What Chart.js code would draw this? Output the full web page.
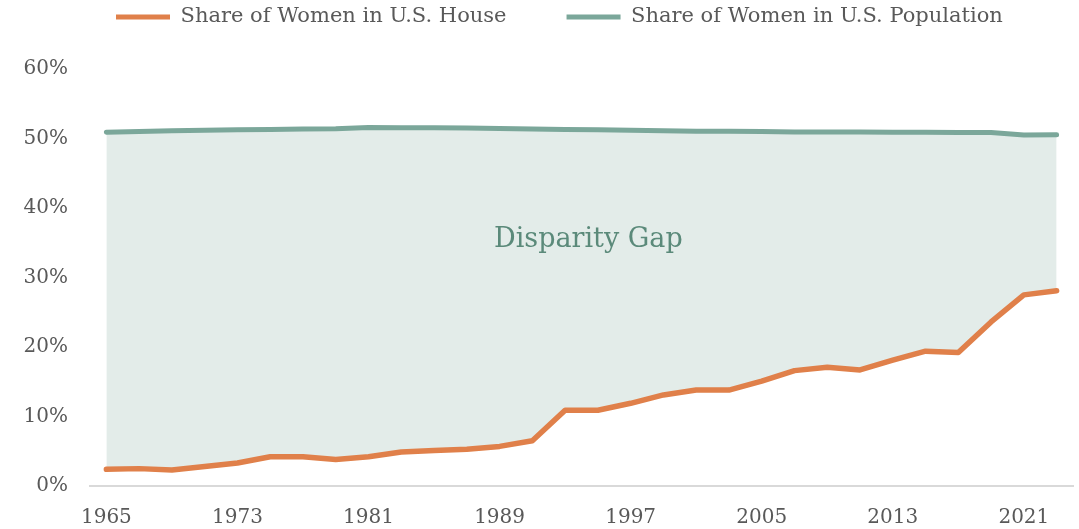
<!DOCTYPE html>
<html>
<head>
<meta charset="utf-8">
<script src="https://cdn.jsdelivr.net/npm/chart.js@4"></script>
<style>
  html, body { margin: 0; padding: 0; background: #ffffff; }
  #wrap { width: 1079px; height: 529px; position: relative; }
</style>
</head>
<body>
<div id="wrap"><canvas id="c"></canvas></div>
<script>
const years = ['1965','1967','1969','1971','1973','1975','1977','1979','1981','1983',
               '1985','1987','1989','1991','1993','1995','1997','1999','2001','2003',
               '2005','2007','2009','2011','2013','2015','2017','2019','2021','2023'];
const houseShare = [2.4, 2.5, 2.3, 2.8, 3.3, 4.2, 4.2, 3.8, 4.2, 4.9,
                    5.1, 5.3, 5.7, 6.5, 10.9, 10.9, 11.9, 13.1, 13.8, 13.8,
                    15.1, 16.6, 17.1, 16.7, 18.1, 19.4, 19.2, 23.6, 27.5, 28.1];
const popShare = [50.9, 51.0, 51.1, 51.2, 51.25, 51.3, 51.35, 51.4, 51.6, 51.55,
                  51.55, 51.5, 51.45, 51.35, 51.3, 51.25, 51.2, 51.1, 51.05, 51.05,
                  51.0, 50.95, 50.95, 50.95, 50.9, 50.9, 50.85, 50.85, 50.5, 50.55];
const seriesNames = ['Share of Women in U.S. House', 'Share of Women in U.S. Population'];
const yTicks = [0, 10, 20, 30, 40, 50, 60];
const gapLabel = 'Disparity Gap';
const gapLabelPos = { index: 14.71, value: 34.4 };

const ORANGE = '#e0804a';
const GREEN = '#7ba79a';
const FILL = '#e3ece9';
const TEXT = '#595959';
const FONT = "'DejaVu Serif', serif";

const legendPlacement = {
  id: 'legendPlacement',
  beforeInit(chart) {
    const lg = chart.legend;
    const origFit = lg.fit;
    lg.fit = function () {
      origFit.apply(this, arguments);
      this.height = 69;
    };
    const origDraw = lg._draw;
    lg._draw = function () {
      const ctx = this.ctx;
      const hb = this.legendHitBoxes && this.legendHitBoxes[0];
      let dx = 0, dy = 0;
      if (hb) {
        dx = 116 - hb.left;
        dy = 17 - (hb.top + hb.height / 2);
      }
      ctx.save();
      ctx.translate(dx, dy);
      origDraw.apply(this, arguments);
      ctx.restore();
    };
  }
};

const gapText = {
  id: 'gapText',
  afterDatasetsDraw(chart) {
    const { ctx, scales: { x, y } } = chart;
    const px = x.getPixelForValue(gapLabelPos.index);
    const py = y.getPixelForValue(gapLabelPos.value);
    ctx.save();
    ctx.font = "27px " + FONT;
    ctx.fillStyle = '#5b8a7a';
    ctx.textAlign = 'center';
    ctx.textBaseline = 'alphabetic';
    ctx.fillText(gapLabel, px, py);
    ctx.restore();
  }
};

new Chart(document.getElementById('c'), {
  type: 'line',
  data: {
    labels: years,
    datasets: [
      {
        label: seriesNames[0],
        data: houseShare,
        borderColor: ORANGE,
        backgroundColor: ORANGE,
        borderWidth: 5.5,
        pointRadius: 0,
        tension: 0,
        borderCapStyle: 'round',
        borderJoinStyle: 'round',
        fill: false,
        order: 0
      },
      {
        label: seriesNames[1],
        data: popShare,
        borderColor: GREEN,
        backgroundColor: FILL,
        borderWidth: 5,
        pointRadius: 0,
        tension: 0,
        borderCapStyle: 'round',
        borderJoinStyle: 'round',
        fill: { target: 0 },
        order: 1
      }
    ]
  },
  options: {
    responsive: true,
    maintainAspectRatio: false,
    animation: false,
    layout: { padding: { left: 0, right: 6, top: 0, bottom: 0 } },
    plugins: {
      legend: {
        display: true,
        position: 'top',
        align: 'start',
        labels: {
          boxWidth: 54,
          boxHeight: 5,
          padding: 60,
          useBorderRadius: true,
          borderRadius: 2.5,
          color: TEXT,
          font: { family: FONT, size: 21 },
          generateLabels(chart) {
            return chart.data.datasets.map((ds, i) => ({
              text: ds.label,
              fillStyle: ds.borderColor,
              strokeStyle: ds.borderColor,
              lineWidth: 0,
              fontColor: TEXT,
              hidden: false,
              datasetIndex: i
            }));
          }
        }
      },
      tooltip: { enabled: false },
      filler: { propagate: false }
    },
    scales: {
      x: {
        type: 'category',
        offset: true,
        grid: { display: false, drawTicks: false },
        border: { display: true, color: '#d9d9d9', width: 2 },
        ticks: {
          autoSkip: false,
          maxRotation: 0,
          padding: 20,
          color: TEXT,
          font: { family: FONT, size: 20 },
          callback(val, idx) { return idx % 4 === 0 ? this.getLabelForValue(val) : null; }
        },
        afterFit(scale) { scale.height = 43; }
      },
      y: {
        min: yTicks[0],
        max: yTicks[yTicks.length - 1],
        grid: { display: false, drawTicks: false },
        border: { display: false },
        afterBuildTicks(scale) { scale.ticks = yTicks.map(v => ({ value: v })); },
        ticks: {
          padding: 22,
          color: TEXT,
          font: { family: FONT, size: 20 },
          callback(v) { return v + '%'; }
        },
        afterFit(scale) { scale.width = 90; }
      }
    }
  },
  plugins: [legendPlacement, gapText]
});
</script>
</body>
</html>
